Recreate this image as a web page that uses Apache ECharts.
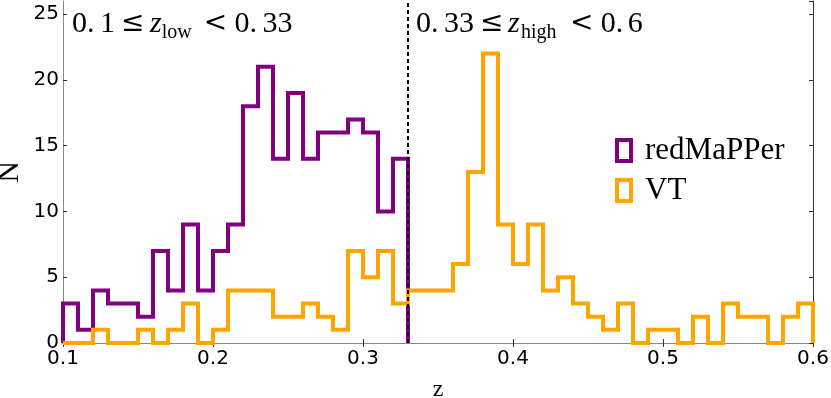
<!DOCTYPE html>
<html>
<head>
<meta charset="utf-8">
<script src="https://cdn.jsdelivr.net/npm/echarts@6/dist/echarts.min.js"></script>
<style>html,body{margin:0;padding:0;background:#fff}#c{width:831px;height:398px}</style>
</head>
<body>
<div id="c"></div>
<script>
// ---- data ----
const binStart = 0.1;
const binWidth = 0.01;
const redMaPPerCounts = [3,1,4,3,3,2,7,4,9,4,7,9,18,21,14,19,14,16,16,17,16,10,14];
const vtCounts = [0,0,1,0,0,1,0,1,3,0, 1,4,4,4,2,2,3,2,1,7, 5,7,3,4,4,4,6,13,22,9, 6,9,4,5,3,2,1,3,0,1, 1,0,2,0,3,2,2,0,2,3];
const seriesNames = ['redMaPPer', 'VT'];
const splitZ = 0.33;
const xTicks = [0.1, 0.2, 0.3, 0.4, 0.5, 0.6];
const yTicks = [0, 5, 10, 15, 20, 25];
const xMin = 0.1, xMax = 0.6, yMin = 0, yMax = 26;

const colors = ['#800080', '#FFA500'];

function stepData(counts) {
  const r = v => Math.round(v * 1e6) / 1e6;
  const d = [[binStart, 0]];
  counts.forEach((c, i) => d.push([r(binStart + i * binWidth), c]));
  d.push([r(binStart + counts.length * binWidth), 0]);
  return d;
}

const chart = echarts.init(document.getElementById('c'), null, {renderer: 'canvas'});
const serif = 'Liberation Serif';
const symFont = 'DejaVu Serif';
const sans = 'DejaVu Sans';

const axisCommon = {
  splitLine: {show: false},
  axisTick: {inside: true, length: 4, lineStyle: {color: '#333', width: 1}},
};

const mainLH = 38;
function richStyles() {
  const pad = p => [0, 0, 0, p];
  const base = {fontFamily: serif, fontSize: 30, lineHeight: mainLH, verticalAlign: 'middle', fill: '#000'};
  const sym = Object.assign({}, base, {fontFamily: symFont, fontSize: 28});
  const it = Object.assign({}, base, {fontStyle: 'italic'});
  const sub = {fontFamily: serif, fontSize: 20, lineHeight: 26, verticalAlign: 'bottom', fill: '#000'};
  return {base, sym, it, sub, pad};
}
const R = richStyles();
function tok(style, p) { return Object.assign({}, style, {padding: R.pad(p)}); }

const option = {
  animation: false,
  grid: {left: 63, right: 18, top: 1, bottom: 55, containLabel: false, outerBoundsMode: 'none'},
  xAxis: [
    Object.assign({}, axisCommon, {
      type: 'value', min: xMin, max: xMax, interval: 0.1, position: 'bottom',
      axisLine: {lineStyle: {color: '#333', width: 1}},
      axisLabel: {margin: 6, fontSize: 20, fontFamily: sans, color: '#000',
        formatter: v => xTicks.some(t => Math.abs(t - v) < 1e-9) ? v.toFixed(1) : ''},
      name: 'z', nameLocation: 'middle', nameGap: 35,
      nameTextStyle: {fontFamily: serif, fontSize: 24, color: '#000'}
    }),
    Object.assign({}, axisCommon, {
      type: 'value', min: xMin, max: xMax, interval: 0.1, position: 'top',
      axisLine: {lineStyle: {color: '#888', width: 1}},
      axisLabel: {show: false}
    })
  ],
  yAxis: [
    Object.assign({}, axisCommon, {
      type: 'value', min: yMin, max: yMax, interval: 5, position: 'left',
      axisLine: {show: true, lineStyle: {color: '#888', width: 1}},
      axisLabel: {margin: 4, fontSize: 20, fontFamily: sans, color: '#000', showMaxLabel: false,
        formatter: v => yTicks.indexOf(v) >= 0 ? String(v) : ''},
      name: 'N', nameLocation: 'middle', nameGap: 38, nameMoveOverlap: false,
      nameTextStyle: {fontFamily: serif, fontSize: 30, color: '#000'}
    }),
    Object.assign({}, axisCommon, {
      type: 'value', min: yMin, max: yMax, interval: 5, position: 'right',
      axisLine: {show: true, lineStyle: {color: '#333', width: 1}},
      axisLabel: {show: false}
    })
  ],
  legend: {
    orient: 'vertical', left: 615, top: 135, padding: 0,
    itemWidth: 18, itemHeight: 25, itemGap: 9,
    icon: 'path://M0,0H18V25H0Z M4,4V21H14V4Z',
    itemStyle: {borderWidth: 0},
    textStyle: {fontFamily: serif, fontSize: 31, color: '#000', padding: [0, 0, 0, 7]},
    data: [
      {name: seriesNames[0], itemStyle: {color: colors[0]}},
      {name: seriesNames[1], itemStyle: {color: colors[1]}}
    ]
  },
  series: [
    {
      name: seriesNames[0], type: 'line', step: 'end', symbol: 'none', showSymbol: false,
      data: stepData(redMaPPerCounts), color: colors[0],
      lineStyle: {color: colors[0], width: 4, join: 'miter', cap: 'butt'}, z: 2
    },
    {
      name: seriesNames[1], type: 'line', step: 'end', symbol: 'none', showSymbol: false,
      data: stepData(vtCounts), color: colors[1],
      lineStyle: {color: colors[1], width: 4, join: 'miter', cap: 'butt'}, z: 3
    },
    {
      name: 'split', type: 'line', symbol: 'none', showSymbol: false,
      data: [[splitZ, yMin], [splitZ, yMax]],
      lineStyle: {color: '#000', width: 2, type: [4, 3]}, z: 5
    }
  ],
  graphic: [
    {
      type: 'text', left: 72, top: 9, z: 10,
      style: {
        text: '{a|0.}{b|1}{c|≤}{d|z}{e|low}{f|<}{g|0.}{h|33}',
        rich: {
          a: tok(R.base, 0), b: tok(R.base, 5.5), c: tok(R.sym, 6), d: tok(R.it, 5.5),
          e: tok(R.sub, 0), f: tok(R.sym, 12), g: tok(R.base, 7.5), h: tok(R.base, 5.5)
        }
      }
    },
    {
      type: 'text', left: 416, top: 9, z: 10,
      style: {
        text: '{a|0.}{b|33}{c|≤}{d|z}{e|high}{f|<}{g|0.}{h|6}',
        rich: {
          a: tok(R.base, 0), b: tok(R.base, 5.5), c: tok(R.sym, 6), d: tok(R.it, 4.5),
          e: tok(R.sub, 1.3), f: tok(R.sym, 13.4), g: tok(R.base, 7.5), h: tok(R.base, 4.5)
        }
      }
    }
  ]
};
chart.setOption(option);
</script>
</body>
</html>
